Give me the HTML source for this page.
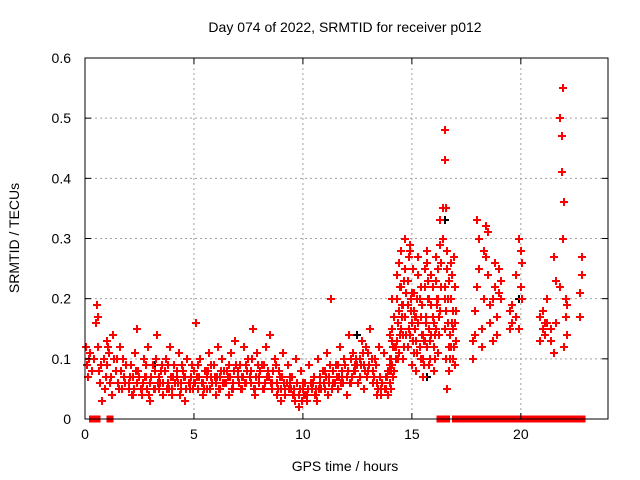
<!DOCTYPE html>
<html><head><meta charset="utf-8"><style>
body{margin:0;background:#fff;}
svg{display:block;font-family:"Liberation Sans",sans-serif;}
</style></head><body>
<svg id="chart" width="640" height="480">
<text x="345" y="32" text-anchor="middle" font-size="14">Day 074 of 2022, SRMTID for receiver p012</text>
<text x="345" y="471" text-anchor="middle" font-size="14">GPS time / hours</text>
<text transform="translate(19,238) rotate(-90)" text-anchor="middle" font-size="14">SRMTID / TECUs</text>
<g id="grid"></g><g id="marks" shape-rendering="crispEdges"></g><g id="axes"></g>
</svg>
<script>
const xTicks=[0,5,10,15,20];
const yTicks=[0,0.1,0.2,0.3,0.4,0.5,0.6];
const yTickLabels=["0","0.1","0.2","0.3","0.4","0.5","0.6"];
const tA=[0.05,0.1,0.15,0.2,0.25,0.5,0.55,0.6,0.65,0.7,0.8,0.85,0.9,1.0,1.1,1.2,1.3,1.4,1.5,1.6,1.7,1.8,1.9,0.3,0.6,1.0,1.25,1.45,0.4,0.75,0.95,1.05,1.15,1.35,1.55,1.65,1.75,1.85];
const vA=[0.12,0.09,0.07,0.1,0.11,0.16,0.19,0.12,0.08,0.06,0.03,0.1,0.05,0.09,0.11,0.07,0.14,0.08,0.06,0.12,0.05,0.07,0.09,0.08,0.17,0.13,0.04,0.1,0.1,0.09,0.07,0.12,0.06,0.1,0.05,0.08,0.1,0.06];
const tB=[2.0,2.2,2.4,2.6,2.8,3.0,3.2,3.4,3.6,3.8,4.0,4.2,4.4,4.6,4.8,5.0,5.2,5.4,5.6,5.8,6.0,6.2,6.4,6.6,6.8,7.0,7.2,7.4,7.6,7.8,8.0,8.2,8.4,8.6,8.8,9.0,9.2,9.4,9.6,9.8,10.0,10.2,10.4,10.6,10.8,11.0,11.2,11.4,11.6,11.8,12.0,12.2,12.4,12.6,12.8,13.0,13.2,13.4,13.6,13.8,14.0];
const tB2=[2.1,2.3,2.5,2.7,2.9,3.1,3.3,3.5,3.7,3.9,4.1,4.3,4.5,4.7,4.9,5.1,5.3,5.5,5.7,5.9,6.1,6.3,6.5,6.7,6.9,7.1,7.3,7.5,7.7,7.9,8.1,8.3,8.5,8.7,8.9,9.1,9.3,9.5,9.7,9.9,10.1,10.3,10.5,10.7,10.9,11.1,11.3,11.5,11.7,11.9,12.1,12.3,12.5,12.7,12.9,13.1,13.3,13.5,13.7,13.9,14.1];
const tB3=[2.05,2.25,2.45,2.65,2.85,3.05,3.25,3.45,3.65,3.85,4.05,4.25,4.45,4.65,4.85,5.05,5.25,5.45,5.65,5.85,6.05,6.25,6.45,6.65,6.85,7.05,7.25,7.45,7.65,7.85,8.05,8.25,8.45,8.65,8.85,9.05,9.25,9.45,9.65,9.85,10.05,10.25,10.45,10.65,10.85,11.05,11.25,11.45,11.65,11.85,12.05,12.25,12.45,12.65,12.85,13.05,13.25,13.45,13.65,13.85,13.95];
const tB4=[2.15,2.35,2.55,2.75,2.95,3.15,3.35,3.55,3.75,3.95,4.15,4.35,4.55,4.75,4.95,5.15,5.35,5.55,5.75,5.95,6.15,6.35,6.55,6.75,6.95,7.15,7.35,7.55,7.75,7.95,8.15,8.35,8.55,8.75,8.95,9.15,9.35,9.55,9.75,9.95,10.15,10.35,10.55,10.75,10.95,11.15,11.35,11.55,11.75,11.95,12.15,12.35,12.55,12.75,12.95,13.15,13.35,13.55,13.75,13.9,14.05];
const vB1=[0.06,0.04,0.15,0.05,0.07,0.03,0.08,0.05,0.06,0.09,0.04,0.07,0.05,0.03,0.06,0.08,0.05,0.04,0.07,0.09,0.06,0.05,0.08,0.04,0.06,0.07,0.05,0.09,0.06,0.04,0.07,0.05,0.08,0.06,0.04,0.03,0.05,0.07,0.04,0.02,0.06,0.03,0.05,0.04,0.07,0.05,0.06,0.08,0.05,0.07,0.04,0.06,0.09,0.07,0.05,0.08,0.06,0.04,0.05,0.07,0.06];
const vB2=[0.09,0.11,0.07,0.1,0.12,0.09,0.14,0.08,0.1,0.12,0.09,0.11,0.08,0.1,0.09,0.16,0.1,0.08,0.11,0.09,0.12,0.1,0.08,0.11,0.13,0.09,0.12,0.1,0.15,0.11,0.09,0.12,0.14,0.1,0.08,0.11,0.09,0.07,0.1,0.08,0.06,0.09,0.07,0.1,0.08,0.11,0.2,0.09,0.12,0.1,0.14,0.11,0.09,0.13,0.12,0.15,0.1,0.12,0.11,0.08,0.13];
const vB3=[0.05,0.07,0.06,0.04,0.09,0.06,0.05,0.07,0.04,0.06,0.05,0.08,0.06,0.07,0.05,0.06,0.09,0.06,0.05,0.07,0.04,0.07,0.06,0.09,0.05,0.08,0.07,0.06,0.08,0.05,0.06,0.09,0.07,0.05,0.06,0.05,0.04,0.06,0.05,0.04,0.05,0.04,0.06,0.05,0.06,0.08,0.07,0.06,0.09,0.08,0.07,0.1,0.08,0.1,0.09,0.11,0.08,0.06,0.04,0.05,0.09];
const vB4=[0.07,0.05,0.08,0.06,0.05,0.07,0.1,0.06,0.08,0.05,0.07,0.06,0.09,0.05,0.07,0.06,0.07,0.05,0.08,0.06,0.07,0.08,0.06,0.07,0.08,0.06,0.07,0.08,0.1,0.07,0.08,0.06,0.07,0.08,0.05,0.07,0.06,0.05,0.03,0.05,0.04,0.05,0.06,0.03,0.05,0.07,0.09,0.06,0.07,0.06,0.08,0.07,0.1,0.09,0.08,0.09,0.07,0.05,0.06,0.07,0.08];
const vB5=[0.04,0.08,0.05,0.07,0.04,0.05,0.06,0.09,0.05,0.07,0.06,0.04,0.07,0.06,0.05,0.07,0.06,0.08,0.05,0.07,0.05,0.06,0.07,0.05,0.09,0.05,0.06,0.07,0.05,0.09,0.05,0.07,0.06,0.09,0.07,0.06,0.05,0.04,0.06,0.03,0.04,0.06,0.04,0.05,0.06,0.04,0.05,0.07,0.06,0.09,0.06,0.08,0.06,0.11,0.07,0.1,0.09,0.07,0.05,0.04,0.1];
const tC=[14.0,14.1,14.2,14.3,14.4,14.5,14.6,14.7,14.8,14.9,15.0,15.1,15.2,15.3,15.4,15.5,15.6,15.7,15.8,15.9,16.0,16.1,16.2,16.3,16.5,16.55,16.6,16.7,16.8,16.9,17.0];
const tC2=[14.05,14.15,14.25,14.35,14.45,14.55,14.65,14.75,14.85,14.95,15.05,15.15,15.25,15.35,15.45,15.55,15.65,15.75,15.85,15.95,16.05,16.15,16.25,16.35,16.45,16.52,16.65,16.75,16.85,16.95,17.02];
const vC1=[0.1,0.15,0.12,0.2,0.18,0.22,0.14,0.25,0.19,0.28,0.16,0.21,0.13,0.24,0.17,0.1,0.22,0.26,0.15,0.19,0.12,0.23,0.2,0.29,0.43,0.18,0.25,0.12,0.2,0.15,0.22];
const vC2=[0.06,0.09,0.08,0.13,0.11,0.15,0.1,0.17,0.12,0.14,0.09,0.11,0.08,0.16,0.1,0.07,0.13,0.12,0.09,0.14,0.08,0.15,0.11,0.18,0.22,0.1,0.05,0.08,0.12,0.1,0.09];
const vC3=[0.14,0.2,0.17,0.24,0.26,0.28,0.19,0.3,0.23,0.29,0.21,0.18,0.17,0.27,0.22,0.14,0.25,0.28,0.2,0.24,0.16,0.27,0.25,0.33,0.48,0.35,0.28,0.23,0.26,0.18,0.16];
const vC4=[0.08,0.12,0.1,0.16,0.14,0.19,0.12,0.21,0.15,0.2,0.13,0.17,0.11,0.2,0.14,0.09,0.17,0.2,0.13,0.17,0.1,0.19,0.17,0.22,0.3,0.15,0.2,0.1,0.16,0.12,0.18];
const vC5=[0.05,0.07,0.12,0.1,0.22,0.17,0.23,0.14,0.27,0.18,0.25,0.15,0.2,0.12,0.19,0.13,0.16,0.23,0.1,0.22,0.14,0.2,0.14,0.26,0.35,0.2,0.16,0.14,0.24,0.27,0.13];
const tD=[17.8,17.9,18.0,18.1,18.2,18.3,18.4,18.5,18.6,18.7,18.8,18.9,19.0,19.1,19.5,19.6,19.8,19.9,20.0,20.05];
const vD1=[0.1,0.14,0.22,0.3,0.12,0.2,0.27,0.31,0.16,0.2,0.22,0.14,0.25,0.2,0.15,0.19,0.17,0.3,0.28,0.2];
const vD2=[0.13,0.18,0.33,0.25,0.15,0.28,0.32,0.24,0.19,0.13,0.26,0.17,0.21,0.23,0.18,0.16,0.24,0.15,0.22,0.26];
const tF=[20.9,21.0,21.1,21.2,21.4,21.5,21.6,21.8,21.9,21.95,22.0,22.05,22.1,22.7,22.8];
const vF1=[0.17,0.15,0.14,0.2,0.13,0.11,0.23,0.22,0.47,0.55,0.36,0.17,0.19,0.17,0.27];
const vF2=[0.13,0.18,0.16,0.16,0.15,0.27,0.16,0.5,0.41,0.3,0.12,0.2,0.14,0.21,0.24];
const tZero=[0.35,0.45,0.55,1.15,16.3,16.4,16.5,16.6,17.0,17.2,17.4,17.6,17.8,18.0,18.2,18.5,18.8,19.0,19.2,19.4,19.6,19.8,20.0,20.1,20.2,20.3,20.4,20.5,20.6,20.7,20.8,20.9,21.0,21.1,21.2,21.3,21.4,21.5,21.6,21.7,21.8,22.0,22.2,22.4,22.6,22.8];
const tBlack=[16.5,19.9,15.7,12.5,3.2,22.0];
const vBlack=[0.33,0.2,0.07,0.14,0.09,0.12];

const L=85,R=608,T=58,B=419;
const xs=t=>L+t/24*(R-L);
const ys=v=>B-v/0.6*(B-T);
const NS="http://www.w3.org/2000/svg";
function mk(tag,attrs,parent){const e=document.createElementNS(NS,tag);for(const k in attrs)e.setAttribute(k,attrs[k]);parent.appendChild(e);return e;}
const grid=document.getElementById('grid'),marks=document.getElementById('marks'),axes=document.getElementById('axes');
xTicks.forEach(t=>{
 const x=xs(t);
 if(t>0){const g=mk('line',{x1:x,x2:x,y1:T,y2:B,stroke:'#a0a0a0','stroke-dasharray':'2,3'},grid);
 
 }
 const lb=mk('text',{x:x,y:B+20,'text-anchor':'middle','font-size':14},axes);lb.textContent=t;
 
 
 mk('line',{x1:x,x2:x,y1:B,y2:B-6,stroke:'#000'},axes);
 mk('line',{x1:x,x2:x,y1:T,y2:T+6,stroke:'#000'},axes);
});
yTicks.forEach((v,i)=>{
 const y=ys(v);
 if(v>0&&v<0.6){const g=mk('line',{x1:L,x2:R,y1:y,y2:y,stroke:'#a0a0a0','stroke-dasharray':'2,3'},grid);
 
 }
 const lb=mk('text',{x:L-14,y:y+5,'text-anchor':'end','font-size':14},axes);lb.textContent=yTickLabels[i];
 
 
 mk('line',{x1:L,x2:L+6,y1:y,y2:y,stroke:'#000'},axes);
 mk('line',{x1:R,x2:R-6,y1:y,y2:y,stroke:'#000'},axes);
});
const fr=mk('rect',{x:L,y:T,width:R-L,height:B-T,fill:'none',stroke:'#000'},axes);


function plus(t,v,color){
 const x=Math.round(xs(t)),y=Math.round(ys(v));
 const h=mk('rect',{x:x-4,y:y-1,width:8,height:2,fill:color},marks);
 
 
 const vv=mk('rect',{x:x-1,y:y-4,width:2,height:8,fill:color},marks);
 
 
}
const red='#ff0000';
const sets=[[tA,vA],[tB,vB1],[tB2,vB2],[tB,vB3],[tB3,vB4],[tB4,vB5],[tC,vC1],[tC,vC2],[tC,vC3],[tC2,vC4],[tC2,vC5],[tD,vD1],[tD,vD2],[tF,vF1],[tF,vF2]];
tBlack.forEach((t,i)=>plus(t,vBlack[i],'#000'));
sets.forEach(([ts,vs])=>ts.forEach((t,i)=>plus(t,vs[i],red)));
tZero.forEach(t=>{
 const x=xs(t);
 const z=mk('rect',{x:x-3.5,y:B-3.5,width:7,height:7,fill:red},marks);
 
 
});
</script>
</body></html>
